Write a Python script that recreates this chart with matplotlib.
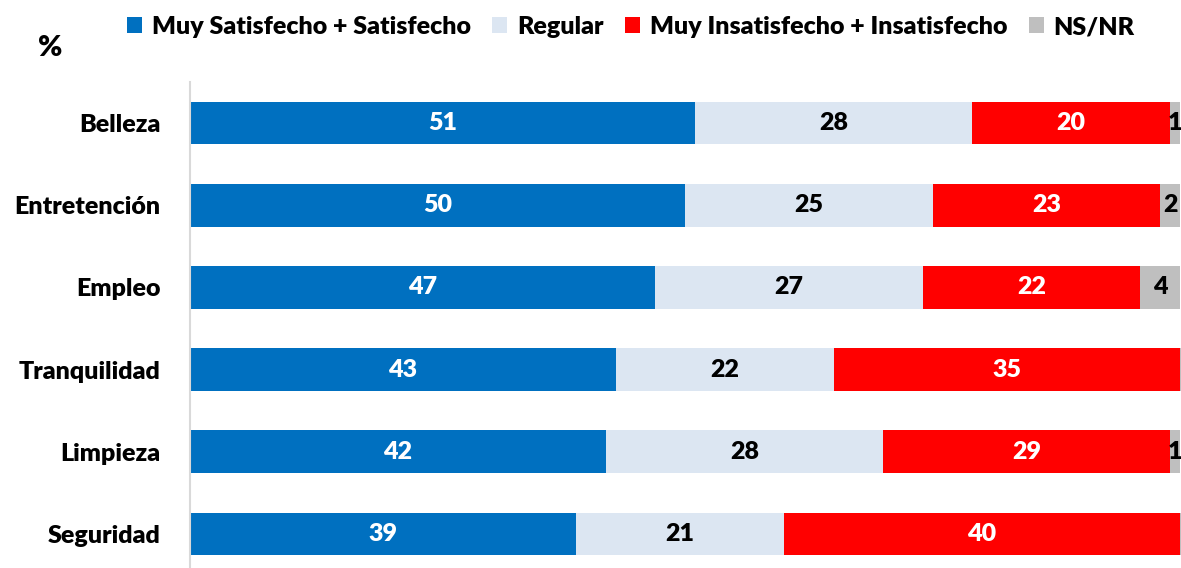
import matplotlib
matplotlib.use("Agg")
import matplotlib.pyplot as plt
from matplotlib.patches import Patch

categories = ["Belleza", "Entretención", "Empleo", "Tranquilidad", "Limpieza", "Seguridad"]
satisfecho = [51, 50, 47, 43, 42, 39]
regular = [28, 25, 27, 22, 28, 21]
insatisfecho = [20, 23, 22, 35, 29, 40]
nsnr = [1, 2, 4, 0.4, 1, 0.4]
series_names = ["Muy Satisfecho + Satisfecho", "Regular", "Muy Insatisfecho + Insatisfecho", "NS/NR"]

colors = ["#0070C0", "#DCE6F2", "#FF0000", "#BFBFBF"]
text_colors = ["white", "black", "white", "black"]

plt.rcParams['font.family'] = ['Lato', 'DejaVu Sans']
FS = 18
FW = 'heavy'

fig = plt.figure(figsize=(11.81, 5.68), dpi=100)
top = 1 - 82 / 568
bottom = 1 - 575 / 568
left = 190 / 1181
right = 1184 / 1181
ax = fig.add_axes([left, bottom, right - left, top - bottom])

ypos = list(range(len(categories)))
data = [satisfecho, regular, insatisfecho, nsnr]
lefts = [0.0] * len(categories)
for s, (vals, col, tcol) in enumerate(zip(data, colors, text_colors)):
    bars = ax.barh(ypos, vals, left=lefts, height=0.52, color=col, edgecolor='none')
    for i, (b, v) in enumerate(zip(bars, vals)):
        if v >= 0.5:
            ax.text(lefts[i] + v / 2, i, f"{round(v)}", ha='center', va='center',
                    color=tcol, fontsize=FS, fontweight=FW, clip_on=False)
    lefts = [l + v for l, v in zip(lefts, vals)]

ax.set_xlim(0, 100.4)
ax.set_ylim(5.5, -0.5)
ax.set_yticks(ypos)
ax.set_yticklabels(categories, fontsize=FS, fontweight=FW)
ax.tick_params(axis='y', length=0, pad=21)
ax.set_xticks([])
for sp in ['top', 'right', 'bottom']:
    ax.spines[sp].set_visible(False)
ax.spines['left'].set_color('#D9D9D9')
ax.spines['left'].set_linewidth(1.5)

handles = [Patch(facecolor=c, edgecolor='none') for c in colors]
fig.legend(handles, series_names, loc='center', bbox_to_anchor=(0.534, 1 - 27 / 568),
           ncol=4, frameon=False, prop={'size': FS, 'weight': FW},
           handlelength=0.6, handleheight=0.6, handletextpad=0.4, columnspacing=0.85)

fig.text(50 / 1181, 1 - 48 / 568, "%", fontsize=21, fontweight=FW, ha='center', va='center')

fig.savefig("out.png", dpi=100)
